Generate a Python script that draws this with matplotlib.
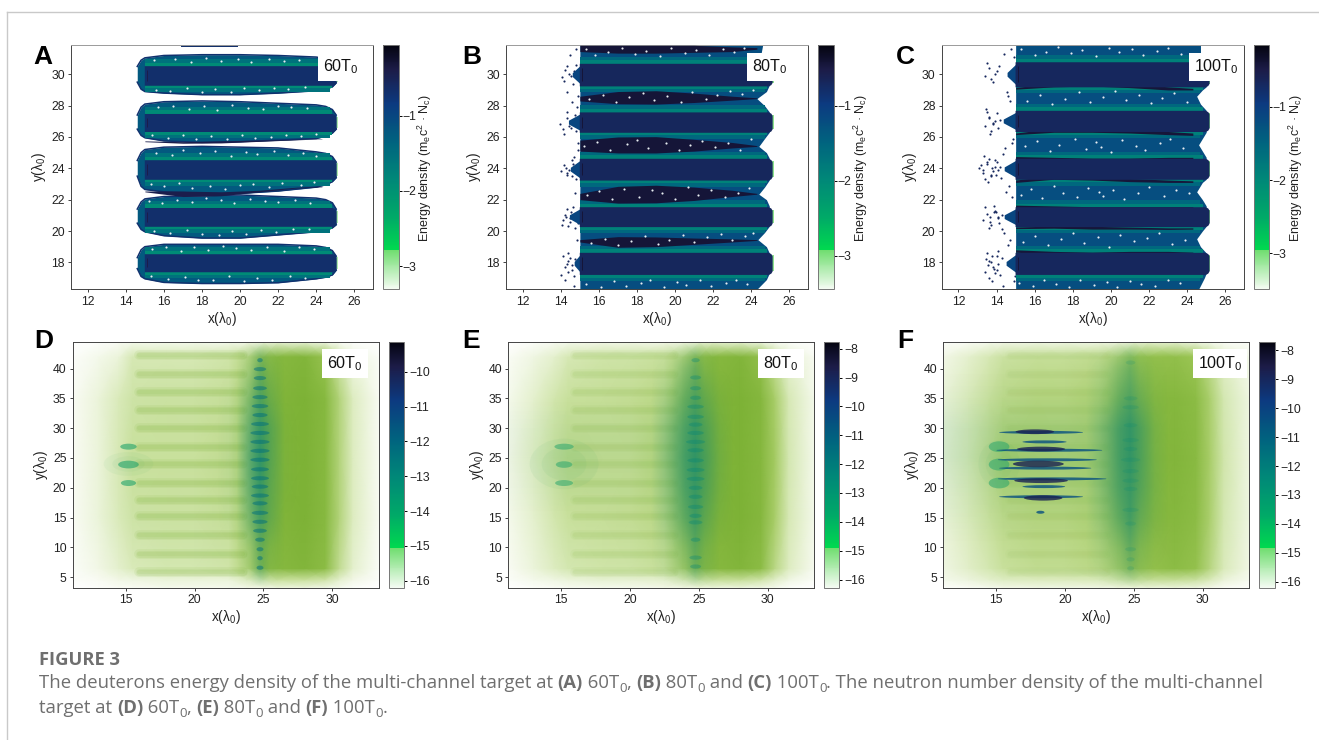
import matplotlib
matplotlib.use('Agg')
import matplotlib.pyplot as plt
from matplotlib.cm import ScalarMappable
from matplotlib.colors import LinearSegmentedColormap, Normalize
from matplotlib.image import NonUniformImage
from matplotlib.patches import Ellipse

plt.rcParams['font.family'] = ['Liberation Sans', 'DejaVu Sans']
plt.rcParams['mathtext.default'] = 'regular'

W, H = 1319, 740

# colour scale, same for every panel
cmap_stops = [0, 0.159, 0.16, 0.3, 0.45, 0.6, 0.76, 0.9, 1]
cmap_colors = ['#f4fbf2', '#6fdd6f', '#00d94f', '#00a868', '#008878', '#00647f',
               '#0c3a80', '#1c1c48', '#040410']
olive_stops = [0, 0.3, 0.7, 1]
olive_colors = ['#ffffff', '#d6e8b4', '#9cc655', '#7db236']

# colourbar ranges
top_ranges = [(-3.31, -0.06), (-3.45, -0.19), (-3.49, -0.16)]
low_ranges = [(-16.2, -9.14), (-16.28, -7.76), (-16.2, -7.71)]
top_ticks = [-3, -2, -1]
low_ticks = [[-16, -15, -14, -13, -12, -11, -10],
             [-16, -15, -14, -13, -12, -11, -10, -9, -8],
             [-16, -15, -14, -13, -12, -11, -10, -9, -8]]
top_labels = ['60T$_0$', '80T$_0$', '100T$_0$']
panel_letters = ['A', 'B', 'C', 'D', 'E', 'F']

# energy density levels of the channel structure
core_level = -0.68
strip_level = -1.9
inner_level = -1.55
halo_level = -1.22
lens_level = -0.42
rim_level = -0.7
edge_level = -3.0

# channel core bands, (bottom, top) in lambda_0
core_a = [[17.4, 18.55], [20.3, 21.5], [23.3, 24.55], [26.35, 27.5], [29.3, 30.55]]
core_b = [[17.23, 18.64], [20.28, 21.55], [23.25, 24.64], [26.3, 27.6], [29.26, 30.7]]
core_c = [[17.23, 18.64], [20.28, 21.55], [23.3, 24.64], [26.35, 27.7], [29.2, 30.8]]
stub_b = [14.7, 14.45, 14.5, 14.4, 14.6]
stub_c = [14.5, 14.4, 14.4, 14.35, 14.55]

# panel A: outline of each channel
halo_x_a = [14.6, 14.8, 15, 16, 18, 20, 22, 24, 24.5, 24.85, 25.05]
halo_top_a = [[18.3, 18.8, 19.0, 19.15, 19.15, 19.15, 19.15, 19.05, 18.95, 18.75, 18.4],
              [21.4, 21.85, 22.05, 22.2, 22.25, 22.3, 22.2, 22.1, 22.0, 21.8, 21.4],
              [24.5, 25.0, 25.2, 25.35, 25.4, 25.35, 25.3, 25.05, 24.95, 24.75, 24.4],
              [27.4, 27.9, 28.1, 28.25, 28.3, 28.25, 28.15, 28.05, 27.95, 27.75, 27.4],
              [30.5, 30.9, 31.05, 31.2, 31.25, 31.25, 31.2, 31.1, 31.0, 30.85, 30.5]]
halo_bot_a = [[17.6, 17.1, 16.95, 16.72, 16.65, 16.65, 16.7, 16.95, 17.05, 17.2, 17.5],
              [20.5, 20.1, 19.95, 19.7, 19.55, 19.55, 19.75, 19.95, 20.05, 20.2, 20.4],
              [23.5, 22.85, 22.65, 22.5, 22.4, 22.4, 22.55, 22.8, 22.95, 23.15, 23.4],
              [26.5, 26.1, 25.95, 25.75, 25.65, 25.7, 25.8, 25.9, 26.05, 26.25, 26.5],
              [29.5, 29.05, 28.9, 28.8, 28.7, 28.7, 28.8, 28.95, 29.05, 29.2, 29.45]]

# panels B and C: right boundary of the filled region
right_y_b = [16.28, 16.9, 17.3, 18.6, 19.0, 19.45, 19.9, 20.3, 21.6, 22.0, 22.35, 22.8, 23.25,
             24.65, 25.0, 25.4, 25.9, 26.3, 27.6, 28.0, 28.45, 28.9, 29.3, 30.7, 31.2, 31.85]
right_x_b = [24.3, 24.8, 24.95, 24.95, 24.8, 24.35, 24.7, 24.95, 24.95, 24.8, 24.4, 24.7, 24.95,
             24.95, 24.8, 24.4, 24.7, 24.95, 24.95, 24.7, 24.3, 24.8, 24.95, 24.9, 24.5, 24.6]
right_y_c = [16.28, 17.0, 17.3, 18.6, 19.0, 19.5, 20.0, 20.3, 21.6, 22.0, 22.5, 23.1, 23.3,
             24.7, 25.1, 25.5, 26.1, 26.3, 27.7, 28.1, 28.6, 29.0, 29.2, 30.8, 31.3, 31.85]
right_x_c = [24.6, 24.9, 25.0, 25.0, 24.7, 24.5, 24.8, 25.0, 25.0, 24.8, 24.5, 24.8, 25.0,
             25.0, 24.8, 24.6, 24.9, 25.0, 25.0, 24.7, 24.5, 24.8, 25.0, 24.9, 24.7, 24.7]

# dark regions between channels
lens_x = [15, 17, 19, 21, 23, 24.3]
lens_top_a = [[25.75, 25.7, 25.75, 25.8, 25.85, 25.9], [22.55, 22.55, 22.5, 22.6, 22.8, 22.85]]
lens_bot_a = [[25.7, 25.6, 25.62, 25.72, 25.82, 25.88], [22.5, 22.2, 22.25, 22.5, 22.75, 22.82]]
lens_top_b = [[19.45, 19.64, 19.62, 19.55, 19.5, 19.45],
              [22.4, 22.85, 22.92, 22.8, 22.6, 22.4],
              [25.8, 26.0, 26.02, 25.85, 25.65, 25.45],
              [28.6, 28.9, 28.95, 28.8, 28.6, 28.5],
              [31.85, 31.85, 31.85, 31.85, 31.75, 31.7]]
lens_bot_b = [[19.3, 18.96, 19.0, 19.15, 19.3, 19.4],
              [22.0, 21.78, 21.8, 21.95, 22.2, 22.35],
              [25.1, 24.98, 24.98, 25.1, 25.3, 25.4],
              [28.3, 28.12, 28.1, 28.2, 28.35, 28.45],
              [31.45, 31.35, 31.35, 31.4, 31.45, 31.6]]
lens_top_c = [[18.8, 18.7, 18.65, 18.7, 18.7, 18.65],
              [20.25, 20.32, 20.3, 20.25, 20.2, 20.2],
              [21.65, 21.6, 21.55, 21.55, 21.55, 21.55],
              [23.25, 23.55, 23.5, 23.35, 23.25, 23.2],
              [24.75, 24.7, 24.65, 24.65, 24.7, 24.7],
              [26.25, 26.55, 26.6, 26.5, 26.35, 26.25],
              [29.15, 29.45, 29.5, 29.4, 29.2, 29.1]]
lens_bot_c = [[18.65, 18.5, 18.42, 18.5, 18.6, 18.6],
              [20.15, 20.18, 20.12, 20.12, 20.1, 20.12],
              [21.5, 21.35, 21.3, 21.35, 21.45, 21.48],
              [23.1, 23.3, 23.25, 23.15, 23.1, 23.1],
              [24.6, 24.45, 24.4, 24.45, 24.55, 24.6],
              [26.15, 26.3, 26.3, 26.25, 26.15, 26.1],
              [29.05, 29.2, 29.25, 29.15, 29.0, 29.0]]

# white holes in the deuteron halo, estimated by eye
holes_x_a = [15.4, 16.1, 16.9, 17.6, 18.3, 19.1, 19.8, 20.6, 21.4, 22.3, 23.1, 23.9,
             15.3, 16.2, 17.1, 17.8, 18.6, 19.4, 20.2, 20.9, 21.7, 22.6, 23.4,
             15.2, 15.9, 16.7, 17.5, 18.2, 19.0, 19.7, 20.5, 21.3, 22.0, 22.9, 23.7,
             15.5, 16.3, 17.2, 18.0, 18.9, 19.6, 20.3, 21.1, 21.9, 22.8, 23.6,
             15.6, 16.4, 17.0, 17.9, 18.7, 19.5, 20.3, 20.9, 21.8, 22.5, 23.3, 24.0,
             15.3, 16.0, 16.8, 17.5, 18.4, 19.2, 20.0, 20.7, 21.5, 22.2, 23.2, 23.9,
             15.7, 16.5, 17.3, 18.1, 18.8, 19.6, 20.4, 21.2, 22.0, 22.7, 23.5,
             15.4, 16.2, 17.0, 17.7, 18.5, 19.3, 20.1, 20.8, 21.6, 22.4, 23.2, 24.0,
             15.5, 16.6, 17.4, 18.2, 19.0, 19.9, 20.6, 21.5, 22.3, 23.1,
             15.6, 16.3, 17.2, 18.0, 18.7, 19.5, 20.2, 21.0, 21.8, 22.5, 23.4]
holes_y_a = [18.85, 18.95, 18.75, 19.0, 18.8, 19.05, 18.9, 18.8, 19.0, 18.75, 18.95, 18.85,
             17.1, 16.95, 17.05, 16.85, 16.9, 17.15, 16.8, 17.0, 16.9, 17.1, 17.0,
             21.9, 21.8, 22.0, 21.85, 22.1, 21.95, 21.8, 22.05, 21.9, 21.85, 22.0, 21.8,
             20.0, 19.85, 20.05, 19.8, 19.75, 20.0, 19.8, 20.05, 19.95, 20.1, 20.15,
             25.0, 24.85, 25.2, 24.95, 25.1, 24.8, 25.05, 24.9, 25.1, 24.85, 24.95, 24.8,
             23.0, 22.85, 23.05, 22.75, 22.9, 22.65, 22.95, 23.0, 22.8, 23.05, 22.95, 23.1,
             27.9, 28.0, 27.8, 27.95, 27.75, 28.05, 27.85, 27.8, 28.0, 27.9, 27.85,
             26.1, 25.95, 26.15, 25.9, 26.05, 25.85, 26.1, 25.95, 26.0, 26.15, 26.05, 26.2,
             30.9, 31.0, 30.8, 31.05, 30.85, 30.95, 30.8, 31.0, 30.85, 30.9,
             29.0, 28.95, 29.1, 28.85, 29.05, 28.9, 29.15, 29.0, 29.1, 29.05, 29.2]
holes_x_b = [15.3, 16.1, 16.8, 17.4, 18.2, 18.7, 19.4, 20.1, 20.6, 21.3, 21.9, 22.7, 23.2, 23.8,
             15.6, 16.3, 17.0, 17.7, 18.4, 19.1, 19.7, 20.4, 21.0, 21.7, 22.4, 23.0, 23.7, 24.1,
             15.4, 16.0, 16.7, 17.3, 18.1, 18.8, 19.3, 20.0, 20.7, 21.2, 21.9, 22.6, 23.3, 23.9,
             15.2, 15.9, 16.6, 17.5, 18.0, 18.6, 19.5, 20.2, 20.8, 21.4, 22.1, 22.8, 23.4, 24.0,
             15.5, 16.2, 16.9, 17.6, 18.3, 18.9, 19.6, 20.3, 20.9, 21.6, 22.2, 22.9, 23.5, 24.1,
             15.3, 15.8, 16.5, 17.2, 17.9, 18.5, 19.2, 19.8, 20.5, 21.1, 21.8, 22.5, 23.1, 23.6]
holes_y_b = [16.6, 16.45, 16.8, 16.5, 16.7, 16.9, 16.4, 16.75, 16.55, 16.85, 16.5, 16.7, 16.9, 16.6,
             19.25, 19.5, 19.1, 19.35, 19.7, 19.2, 19.45, 19.75, 19.3, 19.6, 19.8, 19.45, 19.7, 19.9,
             22.3, 22.55, 22.05, 22.7, 22.2, 22.6, 22.4, 22.05, 22.8, 22.3, 22.6, 22.15, 22.4, 22.75,
             25.4, 25.7, 25.2, 25.55, 25.8, 25.3, 25.6, 25.15, 25.5, 25.75, 25.35, 25.6, 25.2, 25.85,
             28.45, 28.7, 28.25, 28.55, 28.8, 28.35, 28.6, 28.2, 28.9, 28.4, 28.7, 28.95, 28.75, 29.0,
             31.6, 31.25, 31.45, 31.7, 31.3, 31.5, 31.15, 31.65, 31.35, 31.55, 31.2, 31.6, 31.4, 31.7]
holes_x_c = [15.2, 15.9, 16.5, 17.1, 17.8, 18.4, 19.1, 19.8, 20.3, 21.0, 21.6, 22.3, 23.0, 23.6,
             15.4, 16.0, 16.7, 17.4, 18.0, 18.6, 19.3, 19.9, 20.5, 21.2, 21.9, 22.5, 23.2, 23.9,
             15.3, 15.8, 16.4, 17.0, 17.5, 18.2, 18.8, 19.4, 19.6, 20.1, 20.7, 21.4, 22.0, 22.8, 23.4, 24.1,
             15.5, 16.1, 16.8, 17.3, 18.1, 18.7, 19.2, 19.5, 20.0, 20.6, 21.3, 21.8, 22.6, 23.1, 23.8,
             15.6, 16.3, 16.9, 17.6, 18.3, 18.9, 19.6, 20.2, 20.8, 21.5, 22.1, 22.7, 23.3, 24.0,
             15.3, 16.0, 16.6, 17.2, 17.9, 18.5, 19.2, 19.9, 20.4, 21.1, 21.7, 22.4, 23.0, 23.7]
holes_y_c = [16.7, 16.5, 16.85, 16.6, 16.45, 16.9, 16.55, 16.75, 16.4, 16.8, 16.6, 16.5, 16.9, 16.7,
             19.3, 19.7, 19.1, 19.5, 19.85, 19.25, 19.6, 19.0, 19.75, 19.35, 19.55, 19.85, 19.2, 19.45,
             22.3, 22.65, 22.1, 22.85, 22.4, 22.2, 22.75, 22.5, 22.25, 22.6, 22.05, 22.45, 22.8, 22.25, 22.6, 22.4,
             25.4, 25.75, 25.1, 25.5, 25.9, 25.25, 25.65, 25.35, 25.05, 25.8, 25.45, 25.15, 25.6, 25.85, 25.3,
             28.3, 28.65, 28.1, 28.45, 28.85, 28.2, 28.55, 28.95, 28.35, 28.7, 28.15, 28.5, 28.8, 28.25,
             31.6, 31.2, 31.45, 31.75, 31.35, 31.55, 31.15, 31.7, 31.4, 31.6, 31.25, 31.5, 31.7, 31.3]

# stray particles left of the target, estimated by eye
stray_x_b = [14.0, 14.2, 14.4, 14.6, 14.1, 14.3, 14.5, 14.7, 14.2, 14.4, 14.05, 14.25, 14.55, 14.75,
             14.1, 14.3, 14.5, 14.2, 14.4, 14.65, 14.0, 14.15, 14.35, 14.6, 14.8, 14.25, 14.45, 14.7,
             14.1, 14.3, 14.5, 14.75, 13.95, 14.15, 14.35, 14.55, 14.05, 14.2, 14.45, 14.65, 14.8,
             14.3, 14.5, 14.15, 14.35, 14.6, 14.85, 14.9, 14.75, 14.85, 14.9, 14.8, 14.7, 14.9,
             14.6, 14.75, 14.5, 14.8, 14.35, 14.65, 14.45, 14.85, 14.55, 14.7, 14.4, 14.9, 14.6, 14.8]
stray_y_b = [17.2, 17.7, 18.1, 17.5, 18.4, 17.9, 18.3, 17.1, 16.9, 18.6, 20.4, 20.9, 21.2, 20.2,
             20.7, 21.4, 20.6, 21.0, 20.3, 21.5, 23.8, 24.2, 23.6, 24.5, 23.3, 24.0, 23.9, 24.7,
             26.5, 27.2, 26.9, 27.4, 26.8, 26.2, 27.6, 26.6, 29.8, 30.3, 30.0, 29.4, 30.6,
             30.5, 31.2, 29.6, 28.9, 28.2, 27.9, 25.2, 22.4, 19.4, 28.6, 31.6, 16.5, 25.6,
             17.8, 18.2, 20.8, 21.1, 23.7, 24.3, 26.7, 27.0, 29.9, 30.2, 17.4, 20.5, 23.5, 26.4]
stray_x_c = [13.4, 13.6, 13.8, 14.0, 14.2, 13.5, 13.7, 13.9, 14.1, 14.3, 13.6, 13.85, 14.05, 13.45, 13.75,
             13.3, 13.5, 13.7, 13.9, 14.1, 14.3, 13.4, 13.65, 13.85, 14.15, 13.6, 13.95,
             13.1, 13.3, 13.5, 13.7, 13.9, 14.1, 13.2, 13.4, 13.6, 13.8, 14.0, 14.2, 13.35, 13.55, 13.75, 13.95,
             13.4, 13.6, 13.8, 14.0, 14.2, 13.5, 13.7, 13.9, 14.1, 13.45, 13.65,
             13.4, 13.6, 13.8, 14.0, 13.5, 13.7, 13.9, 14.15, 14.4, 14.6, 14.8, 14.5, 14.7, 14.9,
             14.4, 14.65, 14.85, 14.55, 14.75, 14.95, 14.35, 14.6, 14.8, 14.45, 14.7, 14.9,
             13.55, 13.75, 14.0, 13.65, 13.85, 14.05, 13.3, 13.5, 13.7, 13.9, 13.6, 13.8, 14.25, 14.35, 14.3]
stray_y_c = [17.4, 18.1, 17.7, 18.4, 17.2, 18.6, 18.0, 17.3, 17.9, 18.3, 17.0, 17.6, 18.7, 18.2, 16.8,
             20.7, 21.1, 20.4, 21.3, 20.8, 21.0, 21.5, 20.9, 21.6, 20.5, 20.2, 21.2,
             24.0, 23.7, 24.4, 23.5, 24.1, 23.9, 24.2, 23.3, 24.6, 23.8, 24.4, 24.1, 24.8, 23.1, 24.0, 23.6,
             26.7, 27.3, 26.9, 27.5, 27.1, 27.6, 26.4, 27.0, 26.6, 27.8, 26.2,
             29.9, 30.4, 29.5, 30.2, 30.7, 29.7, 30.0, 30.5, 31.3, 28.6, 25.6, 22.5, 19.4, 16.8,
             19.9, 22.9, 25.9, 28.9, 31.6, 17.1, 16.5, 19.1, 22.2, 25.3, 28.3, 31.1,
             17.8, 18.4, 17.5, 20.6, 21.2, 20.9, 23.9, 24.3, 23.6, 24.5, 27.2, 26.8, 23.4, 24.9, 20.1]

# neutron panels: particle fill read on a coarse grid
bg_x = [11.2, 13, 14.5, 15.5, 18, 20, 22.5, 23.8, 25, 26, 28, 29.5, 30.5, 31.5, 33.4]
bg_y = [3.3, 4.6, 6.5, 15, 25, 35, 42, 44.4]
bg_d = [[0.00, 0.02, 0.05, 0.05, 0.08, 0.08, 0.08, 0.10, 0.12, 0.15, 0.15, 0.12, 0.08, 0.03, 0.00],
        [0.02, 0.05, 0.10, 0.12, 0.15, 0.15, 0.15, 0.25, 0.35, 0.40, 0.40, 0.35, 0.20, 0.10, 0.02],
        [0.03, 0.10, 0.20, 0.28, 0.32, 0.32, 0.35, 0.55, 0.85, 0.90, 0.95, 0.85, 0.45, 0.20, 0.03],
        [0.05, 0.15, 0.28, 0.36, 0.38, 0.38, 0.42, 0.60, 0.90, 0.95, 1.00, 0.90, 0.55, 0.25, 0.05],
        [0.05, 0.15, 0.30, 0.40, 0.40, 0.40, 0.45, 0.60, 0.90, 0.95, 1.00, 0.90, 0.55, 0.25, 0.05],
        [0.05, 0.15, 0.28, 0.36, 0.38, 0.38, 0.42, 0.60, 0.90, 0.95, 1.00, 0.90, 0.55, 0.25, 0.05],
        [0.02, 0.08, 0.15, 0.30, 0.30, 0.30, 0.35, 0.50, 0.80, 0.90, 0.95, 0.75, 0.35, 0.12, 0.03],
        [0.00, 0.02, 0.05, 0.08, 0.08, 0.08, 0.08, 0.10, 0.15, 0.18, 0.18, 0.12, 0.05, 0.02, 0.00]]
bg_e = [[0.00, 0.03, 0.05, 0.06, 0.08, 0.08, 0.10, 0.12, 0.15, 0.15, 0.15, 0.12, 0.08, 0.03, 0.00],
        [0.03, 0.08, 0.12, 0.15, 0.18, 0.18, 0.20, 0.30, 0.40, 0.42, 0.42, 0.35, 0.22, 0.12, 0.03],
        [0.05, 0.15, 0.25, 0.32, 0.35, 0.36, 0.42, 0.62, 0.85, 0.90, 0.95, 0.85, 0.50, 0.25, 0.06],
        [0.08, 0.20, 0.33, 0.40, 0.42, 0.44, 0.50, 0.70, 0.90, 0.95, 1.00, 0.92, 0.62, 0.30, 0.08],
        [0.10, 0.25, 0.40, 0.48, 0.45, 0.45, 0.55, 0.72, 0.90, 0.95, 1.00, 0.92, 0.65, 0.32, 0.08],
        [0.08, 0.20, 0.33, 0.40, 0.42, 0.44, 0.50, 0.70, 0.90, 0.95, 1.00, 0.92, 0.62, 0.30, 0.08],
        [0.04, 0.12, 0.20, 0.30, 0.35, 0.36, 0.40, 0.55, 0.80, 0.90, 0.95, 0.80, 0.42, 0.18, 0.05],
        [0.00, 0.03, 0.06, 0.08, 0.10, 0.10, 0.10, 0.12, 0.18, 0.20, 0.20, 0.14, 0.06, 0.03, 0.00]]
bg_f = [[0.02, 0.05, 0.08, 0.10, 0.12, 0.12, 0.12, 0.14, 0.16, 0.16, 0.16, 0.14, 0.10, 0.05, 0.02],
        [0.08, 0.14, 0.20, 0.24, 0.26, 0.26, 0.28, 0.35, 0.42, 0.42, 0.42, 0.38, 0.28, 0.16, 0.06],
        [0.12, 0.22, 0.32, 0.40, 0.45, 0.45, 0.50, 0.62, 0.75, 0.78, 0.85, 0.78, 0.52, 0.28, 0.10],
        [0.16, 0.28, 0.40, 0.48, 0.52, 0.52, 0.58, 0.72, 0.82, 0.88, 0.92, 0.85, 0.60, 0.32, 0.12],
        [0.18, 0.32, 0.48, 0.60, 0.58, 0.56, 0.60, 0.75, 0.85, 0.90, 0.95, 0.88, 0.62, 0.34, 0.12],
        [0.16, 0.28, 0.40, 0.48, 0.52, 0.52, 0.58, 0.72, 0.82, 0.88, 0.92, 0.85, 0.60, 0.32, 0.12],
        [0.10, 0.20, 0.30, 0.38, 0.42, 0.42, 0.46, 0.58, 0.72, 0.78, 0.80, 0.70, 0.45, 0.22, 0.08],
        [0.02, 0.05, 0.08, 0.10, 0.12, 0.12, 0.12, 0.14, 0.18, 0.20, 0.20, 0.14, 0.08, 0.04, 0.02]]

# horizontal stripes left over from the channels
stripe_y = [5.95, 8.9, 12.1, 15.2, 18, 20.8, 24, 26.9, 30.1, 33, 36, 39.1, 42.3]
stripe_alpha = [0.1, 0.06, 0.03]
stripe_x0 = [16.0, 16.0, 16.0]
stripe_x1 = [23.5, 23.2, 23.0]

# teal front around x = 24.7
front_x = [21.5, 23, 24, 24.7, 25.4, 26.5, 27.5]
front_y = [3.3, 6, 10, 15, 20, 25, 30, 35, 40, 42.5, 44.4]
front_d = [[0, 0, 0, 0, 0, 0, 0],
           [0, 0, 0.05, 0.25, 0.05, 0, 0],
           [0, 0, 0.1, 0.3, 0.1, 0, 0],
           [0, 0.03, 0.3, 0.5, 0.25, 0, 0],
           [0, 0.05, 0.4, 0.6, 0.3, 0.03, 0],
           [0, 0.05, 0.45, 0.65, 0.35, 0.03, 0],
           [0, 0.05, 0.4, 0.6, 0.35, 0.03, 0],
           [0, 0.03, 0.25, 0.45, 0.2, 0, 0],
           [0, 0, 0.1, 0.3, 0.1, 0, 0],
           [0, 0, 0.05, 0.15, 0.05, 0, 0],
           [0, 0, 0, 0, 0, 0, 0]]
front_e = [[0, 0, 0, 0, 0, 0, 0],
           [0, 0.05, 0.1, 0.25, 0.1, 0, 0],
           [0, 0.08, 0.2, 0.35, 0.15, 0, 0],
           [0, 0.2, 0.4, 0.55, 0.3, 0.05, 0],
           [0.02, 0.25, 0.5, 0.6, 0.4, 0.1, 0],
           [0.03, 0.3, 0.55, 0.65, 0.45, 0.12, 0],
           [0.03, 0.28, 0.5, 0.6, 0.4, 0.1, 0],
           [0, 0.15, 0.35, 0.45, 0.25, 0.05, 0],
           [0, 0.05, 0.2, 0.3, 0.1, 0, 0],
           [0, 0.02, 0.08, 0.15, 0.05, 0, 0],
           [0, 0, 0, 0, 0, 0, 0]]
front_f = [[0, 0, 0, 0, 0, 0, 0],
           [0, 0.05, 0.12, 0.2, 0.08, 0, 0],
           [0, 0.1, 0.2, 0.35, 0.15, 0.02, 0],
           [0.02, 0.2, 0.4, 0.55, 0.3, 0.08, 0],
           [0.05, 0.28, 0.5, 0.6, 0.4, 0.12, 0],
           [0.08, 0.3, 0.55, 0.65, 0.45, 0.12, 0],
           [0.08, 0.32, 0.55, 0.65, 0.45, 0.12, 0],
           [0.02, 0.15, 0.35, 0.45, 0.25, 0.05, 0],
           [0, 0.08, 0.2, 0.3, 0.12, 0.02, 0],
           [0, 0.02, 0.08, 0.15, 0.05, 0, 0],
           [0, 0, 0, 0, 0, 0, 0]]

# bunches along the front: y, full width in x
blob_y_d = [41.4, 39.9, 38.4, 36.7, 35.2, 33.7, 32.2, 30.7, 29.2, 27.7, 26.2, 24.7, 23.1, 21.6,
            20.2, 18.7, 17.4, 15.8, 14.3, 12.8, 11.3, 9.7, 8.2, 6.6]
blob_w_d = [0.4, 0.9, 0.9, 1.0, 1.1, 1.2, 1.1, 1.3, 1.4, 1.4, 1.4, 1.4, 1.3, 1.3, 1.2, 1.3, 1.1,
            1.2, 1.1, 1.0, 0.7, 0.5, 0.4, 0.5]
blob_y_e = [41.4, 38.5, 36.7, 35.1, 33.6, 31.9, 30.6, 29.2, 27.7, 26.3, 24.6, 23, 21.5, 20, 18.5,
            16.8, 15.3, 14.2, 11.3, 8.3, 6.8]
blob_w_e = [0.6, 0.8, 0.8, 0.8, 1.2, 1.2, 1.0, 1.2, 1.4, 1.2, 1.2, 1.3, 1.3, 1.0, 1.0, 1.1, 0.9,
            1.0, 0.7, 0.9, 0.8]
blob_y_f = [41, 35, 33.5, 30.5, 28, 26.5, 24.7, 22.8, 21.2, 19.8, 16.3, 14, 9.7, 8, 6.5]
blob_w_f = [0.7, 1.0, 1.2, 1.0, 1.2, 1.0, 1.4, 1.2, 1.2, 1.0, 1.2, 0.8, 0.8, 0.6, 0.5]
blob_alpha = [0.5, 0.32, 0.15]

# hot spots on the target front
spot_x = [15.2, 15.2, 15.2]
spot_y = [26.9, 23.9, 20.8]
spot_w = [[1.2, 1.5, 1.1], [1.4, 1.2, 1.3], [1.5, 1.5, 1.5]]
spot_h = [[1.0, 1.3, 1.0], [1.0, 1.1, 1.0], [1.8, 2.0, 1.8]]
spot_alpha = [0.6, 0.5, 0.5]
glow_w = [3.6, 5.0, 3.0]
glow_h = [4.0, 8.5, 8.0]
glow_alpha = [0.06, 0.07, 0.06]

# panel F, dark streaks: y, start, end
streak_y = [29.3, 27.7, 26.3, 24.7, 23.3, 21.5, 20.2, 18.5, 15.9]
streak_x0 = [15.2, 16.9, 15.0, 15.1, 15.2, 15.1, 16.9, 15.2, 17.9]
streak_x1 = [21.3, 20.1, 22.7, 22.3, 21.9, 23.0, 20.0, 21.3, 18.5]
thick_y = [29.4, 26.5, 24.0, 21.2, 18.3]
thick_x0 = [16.4, 16.5, 16.2, 16.3, 17.0]
thick_x1 = [19.2, 20.0, 19.9, 20.2, 19.8]
thick_h = [0.8, 0.8, 1.1, 0.8, 0.9]

caption_1 = [('The deuterons energy density of the multi-channel target at ', 'r'), ('(A)', 'b'),
             (' 60T', 'r'), ('0', 's'), (', ', 'r'), ('(B)', 'b'), (' 80T', 'r'), ('0', 's'),
             (' and ', 'r'), ('(C)', 'b'), (' 100T', 'r'), ('0', 's'),
             ('. The neutron number density of the multi-channel', 'r')]
caption_2 = [('target at ', 'r'), ('(D)', 'b'), (' 60T', 'r'), ('0', 's'), (', ', 'r'), ('(E)', 'b'),
             (' 80T', 'r'), ('0', 's'), (' and ', 'r'), ('(F)', 'b'), (' 100T', 'r'), ('0', 's'), ('.', 'r')]

cmap = LinearSegmentedColormap.from_list('energy', list(zip(cmap_stops, cmap_colors)))
olive = LinearSegmentedColormap.from_list('olive', list(zip(olive_stops, olive_colors)))
teal_alpha = LinearSegmentedColormap.from_list('teal', [(0, (0, 0.5, 0.47, 0)), (1, (0, 0.5, 0.47, 1))])

fig = plt.figure(figsize=(W / 100, H / 100), dpi=100)


def px_axes(left, right, top, bottom):
    return fig.add_axes([left / W, 1 - bottom / H, (right - left) / W, (bottom - top) / H])


def style_axes(ax, xlim, ylim, xticks, yticks):
    ax.set_xlim(xlim)
    ax.set_ylim(ylim)
    ax.set_xticks(xticks)
    ax.set_yticks(yticks)
    ax.tick_params(labelsize=8.8, length=2.5, width=0.6, pad=2, color='#222222', labelcolor='#222222')
    ax.set_xlabel('x(λ$_0$)', fontsize=9.8, labelpad=1.5, color='#222222')
    ax.set_ylabel('y(λ$_0$)', fontsize=9.8, labelpad=2, color='#222222')
    for spine in ax.spines.values():
        spine.set_linewidth(0.7)
        spine.set_color('#444444')


def add_colorbar(box, vrange, ticks, low_row):
    cax = px_axes(*box)
    sm = ScalarMappable(norm=Normalize(*vrange), cmap=cmap)
    bar = fig.colorbar(sm, cax=cax, ticks=ticks)
    bar.outline.set_linewidth(0.7)
    bar.outline.set_edgecolor('#777777')
    bar.minorticks_off()
    if low_row:
        cax.tick_params(labelsize=8.8, length=2.5, width=0.7, pad=1.5, labelcolor='#222222')
    else:
        cax.tick_params(labelsize=8.8, length=2, width=0.7, pad=0.5, labelcolor='#222222')
    return cax


def draw_top(ax, vrange, cores, panel):
    norm = Normalize(*vrange)
    col = lambda v: cmap(norm(v))
    if panel == 'A':
        for top, bot in zip(halo_top_a, halo_bot_a):
            ax.fill_between(halo_x_a, bot, top, color=col(halo_level), lw=0, zorder=1)
            ax.plot(halo_x_a, top, color=col(rim_level), lw=1.1, zorder=2)
            ax.plot(halo_x_a, bot, color=col(rim_level), lw=1.1, zorder=2)
        right_edge = 25.05
        tops, bots = lens_top_a, lens_bot_a
        holes_x, holes_y = holes_x_a, holes_y_a
        ax.fill_between([16.9, 19.9], [31.75, 31.75], [31.85, 31.85], color=col(core_level), lw=0)
    else:
        if panel == 'B':
            ry, rx, sx, sy = right_y_b, right_x_b, stray_x_b, stray_y_b
            stubs, tops, bots = stub_b, lens_top_b, lens_bot_b
            holes_x, holes_y = holes_x_b, holes_y_b
            right_edge = 25.1
        else:
            ry, rx, sx, sy = right_y_c, right_x_c, stray_x_c, stray_y_c
            stubs, tops, bots = stub_c, lens_top_c, lens_bot_c
            holes_x, holes_y = holes_x_c, holes_y_c
            right_edge = 25.15
        ax.scatter(sx, sy, s=2.4, color=col(core_level), lw=0, zorder=1)
        ax.fill_betweenx(ry, 15.0, rx, color=col(halo_level), lw=0, zorder=1)
        for (low, high), stub in zip(cores, stubs):
            ax.fill_between([stub, 15.05], [(low + high) / 2 - 0.12, low + 0.1],
                            [(low + high) / 2 + 0.12, high - 0.1], color=col(halo_level + 0.1),
                            lw=0, zorder=2)
    # green strips hugging the core and the bright tip of each channel
    for low, high in cores:
        ax.fill_between([15, 24.7], low - 0.42, high + 0.42, color=col(inner_level), lw=0, zorder=2)
        ax.fill_between([15, 24.85], low - 0.2, high + 0.2, color=col(strip_level), lw=0, zorder=2.1)
        ax.vlines(right_edge + 0.02, low + 0.2, high - 0.2, color=col(edge_level), lw=1.3, zorder=2.5)
    for top, bot in zip(tops, bots):
        ax.fill_between(lens_x, bot, top, color=col(lens_level), lw=0, zorder=3)
    ax.scatter(holes_x, holes_y, s=2.4, color='#e8eef2', lw=0, zorder=3.5)
    for low, high in cores:
        # rounded tip of the core
        ax.fill_between([14.97, right_edge - 0.2, right_edge - 0.07, right_edge],
                        [low, low, low + 0.08, low + 0.22], [high, high, high - 0.08, high - 0.22],
                        color=col(core_level), lw=0, zorder=4)
        ax.vlines(15.12, low + 0.3, high - 0.3, color=col(lens_level), lw=0.7, zorder=5)


def draw_low(ax, vrange, bg, front, blob_y, blob_w, idx):
    norm = Normalize(*vrange)
    ax.pcolormesh(bg_x, bg_y, bg, cmap=olive, vmin=0, vmax=1, shading='gouraud', zorder=1)
    for y in stripe_y:
        for lw in (7, 5, 3):
            ax.hlines(y, stripe_x0[idx], stripe_x1[idx], color='#7db236', lw=lw, alpha=stripe_alpha[idx],
                      capstyle='round', zorder=2)
    im = NonUniformImage(ax, interpolation='bilinear', cmap=teal_alpha, norm=Normalize(0, 1),
                         extent=(front_x[0], front_x[-1], front_y[0], front_y[-1]), zorder=3)
    im.set_data(front_x, front_y, front)
    ax.add_image(im)
    for y, w in zip(blob_y, blob_w):
        ax.add_patch(Ellipse((24.75, y), w, 0.7, facecolor=cmap(norm(-12.3)), lw=0,
                             alpha=blob_alpha[idx], zorder=4))
    ax.add_patch(Ellipse((15.2, 24), glow_w[idx], glow_h[idx], facecolor='#4fae6a', lw=0,
                         alpha=glow_alpha[idx], zorder=4))
    ax.add_patch(Ellipse((15.2, 24), glow_w[idx] * 0.65, glow_h[idx] * 0.65, facecolor='#4fae6a', lw=0,
                         alpha=glow_alpha[idx], zorder=4))
    for cx, cy, w, h in zip(spot_x, spot_y, spot_w[idx], spot_h[idx]):
        ax.add_patch(Ellipse((cx, cy), w, h, facecolor='#1fa36a', lw=0, alpha=spot_alpha[idx], zorder=5))


top_boxes = [(71, 373.3), (506, 808.3), (941.7, 1244.3)]
top_bars = [(383.3, 398.7), (818.3, 834), (1254, 1269.3)]
low_boxes = [(72.7, 378.7), (508.3, 814.3), (943.3, 1249.3)]
low_bars = [(388.7, 404), (824, 839.3), (1259.3, 1275)]
cores = [core_a, core_b, core_c]
bgs = [bg_d, bg_e, bg_f]
fronts = [front_d, front_e, front_f]
blob_ys = [blob_y_d, blob_y_e, blob_y_f]
blob_ws = [blob_w_d, blob_w_e, blob_w_f]
top_label_px = [(341, 67), (770, 67), (1216, 67)]
low_label_px = [(345, 363.5), (781, 363.5), (1220, 363.5)]
letter_top_px = [(33, 64), (462, 64), (896, 64)]
letter_low_px = [(34, 348), (462, 348), (897, 348)]

for i in range(3):
    ax = px_axes(top_boxes[i][0], top_boxes[i][1], 45.3, 289.3)
    draw_top(ax, top_ranges[i], cores[i], 'ABC'[i])
    style_axes(ax, (11.12, 27.0), (16.28, 31.85), range(12, 27, 2), range(18, 31, 2))
    ax.spines['top'].set_color('#9a9a9a')
    cax = add_colorbar((top_bars[i][0], top_bars[i][1], 45.3, 289.3), top_ranges[i], top_ticks, False)
    fig.text((top_bars[i][1] + 26.5) / W, 1 - 168 / H, 'Energy density (m$_e$c$^2$ · N$_c$)', rotation=90,
             fontsize=9.0, ha='center', va='center', color='#222222')
    fig.text(top_label_px[i][0] / W, 1 - top_label_px[i][1] / H, top_labels[i], fontsize=11.6, ha='center',
             va='center', color='#111111', bbox=dict(fc='white', ec='none', pad=3.5))
    fig.text(letter_top_px[i][0] / W, 1 - letter_top_px[i][1] / H, panel_letters[i], fontsize=19,
             fontweight='bold', color='black')

    ax = px_axes(low_boxes[i][0], low_boxes[i][1], 341.7, 587.7)
    draw_low(ax, low_ranges[i], bgs[i], fronts[i], blob_ys[i], blob_ws[i], i)
    if i == 2:
        norm = Normalize(*low_ranges[2])
        for y, x0, x1 in zip(streak_y, streak_x0, streak_x1):
            ax.add_patch(Ellipse(((x0 + x1) / 2, y), x1 - x0, 0.5, facecolor=cmap(norm(-10.4)), lw=0,
                                 alpha=0.8, zorder=6))
        for y, x0, x1, h in zip(thick_y, thick_x0, thick_x1, thick_h):
            ax.add_patch(Ellipse(((x0 + x1) / 2, y), x1 - x0, h, facecolor=cmap(norm(-8.8)), lw=0,
                                 alpha=0.8, zorder=7))
    style_axes(ax, (11.15, 33.37), (3.25, 44.5), range(15, 31, 5), range(5, 41, 5))
    add_colorbar((low_bars[i][0], low_bars[i][1], 341.7, 587.7), low_ranges[i], low_ticks[i], True)
    fig.text(low_label_px[i][0] / W, 1 - low_label_px[i][1] / H, top_labels[i], fontsize=11.6, ha='center',
             va='center', color='#111111', bbox=dict(fc='white', ec='none', pad=3.5))
    fig.text(letter_low_px[i][0] / W, 1 - letter_low_px[i][1] / H, panel_letters[i + 3], fontsize=19,
             fontweight='bold', color='black')


def rich_line(x, y, pieces, size=13.3):
    # writes text pieces one after the other, y is the baseline in pixels
    renderer = fig.canvas.get_renderer()
    for text, kind in pieces:
        weight = 'bold' if kind == 'b' else 'normal'
        fs = size * 0.72 if kind == 's' else size
        dy = 4 if kind == 's' else 0
        t = fig.text(x / W, 1 - (y + dy) / H, text.replace(' ', '\u00a0'), fontsize=fs, fontweight=weight,
                     color='#6f6f6f', family='Open Sans', ha='left', va='baseline')
        x += t.get_window_extent(renderer).width


rich_line(39, 665, [('FIGURE 3', 'b')], size=13.2)
rich_line(39, 688, caption_1)
rich_line(39, 713, caption_2)

# page frame of the source article
fig.add_artist(plt.Line2D([7 / W, 1], [1 - 12 / H, 1 - 12 / H], color='#c9c9c9', lw=1))
fig.add_artist(plt.Line2D([7 / W, 7 / W], [0, 1 - 12 / H], color='#c9c9c9', lw=1))

fig.savefig('out.png', dpi=100)
